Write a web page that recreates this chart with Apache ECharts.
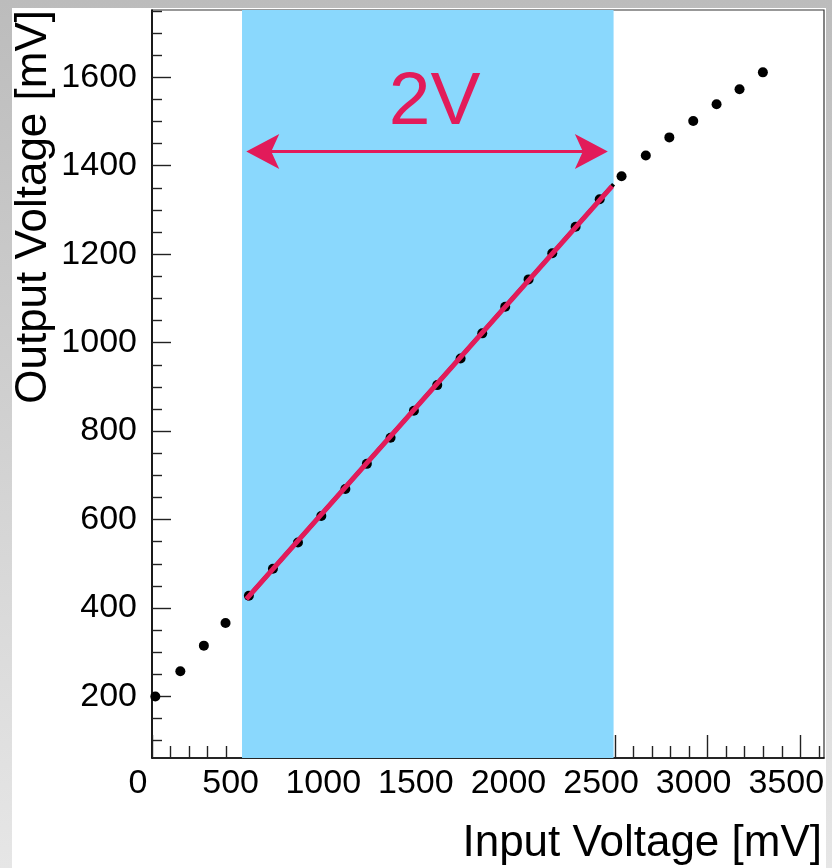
<!DOCTYPE html>
<html>
<head>
<meta charset="utf-8">
<script src="https://cdn.jsdelivr.net/npm/echarts@6/dist/echarts.min.js"></script>
<style>
  html, body { margin: 0; padding: 0; width: 832px; height: 868px; overflow: hidden;
    background: linear-gradient(to bottom, #bcbcbc, #e6e6e6); }
  #panel { position: absolute; left: 12px; top: 8px; width: 814px; height: 860px; background: #fff; }
  #chart { position: absolute; left: 0; top: 0; width: 832px; height: 868px; }
</style>
</head>
<body>
<div id="panel"></div>
<div id="chart"></div>
<script>
// Measured transfer curve: input vs. output voltage (mV)
const inputMv  = [18, 153, 280, 397, 523, 653, 788, 914, 1044, 1160, 1288, 1414, 1540, 1666,
                  1783, 1907, 2033, 2161, 2287, 2417, 2535, 2666, 2793, 2922, 3048, 3172, 3298];
const outputMv = [200, 257, 315, 366, 428, 489, 548, 608, 669, 726, 785, 846, 904, 964,
                  1021, 1081, 1143, 1202, 1262, 1324, 1376, 1423, 1464, 1501, 1539, 1573, 1611];

// Linear range (shaded) and the straight-line fit across it
const linearRangeMv = [486, 2492];
const fitInputMv  = [509, 2484];
const fitOutputMv = [420, 1354];
const fitOutlineInputMv  = [509, 2492];
const fitOutlineOutputMv = [420, 1358];

// Span arrow and its caption
const spanArrowInputMv = [598, 2372];
const spanArrowOutputMv = 1432;
const spanCaption = '2V';
const spanCaptionAt = [1526, 1541];

// Axis ranges and ticks
const xRange = [0, 3628];
const yRange = [61, 1752];
const xMajorTicks = [0, 500, 1000, 1500, 2000, 2500, 3000, 3500];
const xMinorTicks = [100, 200, 300, 400, 600, 700, 800, 900, 1100, 1200, 1300, 1400,
                     1600, 1700, 1800, 1900, 2100, 2200, 2300, 2400, 2600, 2700, 2800, 2900,
                     3100, 3200, 3300, 3400, 3600];
const yMajorTicks = [200, 400, 600, 800, 1000, 1200, 1400, 1600];
const yMinorTicks = [100, 150, 250, 300, 350, 450, 500, 550, 650, 700, 750, 850, 900, 950,
                     1050, 1100, 1150, 1250, 1300, 1350, 1450, 1500, 1550, 1650, 1700, 1750];

const xTitle = 'Input Voltage [mV]';
const yTitle = 'Output Voltage [mV]';

const FONT = '"Liberation Sans", Arial, Helvetica, sans-serif';
const ACCENT = '#e21b5a';
const BAND = '#8ad8fd';
const TICK = '#222';
// notched arrow head, tip pointing up (35 wide, 33 long)
const ARROW_HEAD = 'path://M17.5 0 L35 33 L17.5 25 L0 33 Z';

const chart = echarts.init(document.getElementById('chart'), null, { renderer: 'canvas' });

const plainNumber = v => String(v);

const baseAxis = {
  type: 'value',
  splitLine: { show: false },
};

const option = {
  animation: false,
  backgroundColor: 'transparent',
  grid: {
    left: 152, top: 10, width: 672, height: 748,
    show: true, borderColor: '#333', borderWidth: 1.2, backgroundColor: 'transparent'
  },
  xAxis: [
    Object.assign({}, baseAxis, {
      min: xRange[0], max: xRange[1], position: 'bottom',
      axisLine: { show: true, onZero: false, lineStyle: { color: '#000', width: 1.6 } },
      axisTick: { show: true, inside: true, length: 23, customValues: xMajorTicks,
                  lineStyle: { color: TICK, width: 1.4 } },
      axisLabel: { show: true, customValues: xMajorTicks, margin: 9, color: '#000',
                   formatter: plainNumber,
                   fontFamily: FONT, fontSize: 34, padding: [0, 28, 0, 0] }
    }),
    Object.assign({}, baseAxis, {
      min: xRange[0], max: xRange[1], position: 'bottom',
      axisLine: { show: false, onZero: false },
      axisTick: { show: true, inside: true, length: 12, customValues: xMinorTicks,
                  lineStyle: { color: TICK, width: 1.4 } },
      axisLabel: { show: false }
    })
  ],
  yAxis: [
    Object.assign({}, baseAxis, {
      min: yRange[0], max: yRange[1], position: 'left',
      axisLine: { show: true, onZero: false, lineStyle: { color: '#000', width: 1.6 } },
      axisTick: { show: true, inside: true, length: 19, customValues: yMajorTicks,
                  lineStyle: { color: TICK, width: 1.4 } },
      axisLabel: { show: true, customValues: yMajorTicks, margin: 15, color: '#000',
                   formatter: plainNumber,
                   fontFamily: FONT, fontSize: 34 }
    }),
    Object.assign({}, baseAxis, {
      min: yRange[0], max: yRange[1], position: 'left',
      axisLine: { show: false, onZero: false },
      axisTick: { show: true, inside: true, length: 10, customValues: yMinorTicks,
                  lineStyle: { color: TICK, width: 1.4 } },
      axisLabel: { show: false }
    })
  ],
  graphic: [
    { type: 'text', right: 10, top: 822, silent: true,
      style: { text: xTitle, font: '44px ' + FONT, fill: '#000' } },
    { type: 'text', x: 34, y: 10, rotation: Math.PI / 2, silent: true,
      style: { text: yTitle, font: '44px ' + FONT, fill: '#000',
               align: 'right', verticalAlign: 'middle' } }
  ],
  series: [
    {
      name: 'measured', type: 'scatter', xAxisIndex: 0, yAxisIndex: 0,
      data: inputMv.map((x, i) => [x, outputMv[i]]),
      symbol: 'circle', symbolSize: 10,
      itemStyle: { color: '#000', opacity: 1 },
      markArea: {
        silent: true,
        itemStyle: { color: BAND, opacity: 1 },
        data: [[{ xAxis: linearRangeMv[0] }, { xAxis: linearRangeMv[1] }]]
      },
      z: 2
    },
    {
      name: 'fit outline', type: 'line', xAxisIndex: 0, yAxisIndex: 0,
      data: fitOutlineInputMv.map((x, i) => [x, fitOutlineOutputMv[i]]),
      symbol: 'none', lineStyle: { color: '#000', width: 4 }, z: 3
    },
    {
      name: 'fit', type: 'line', xAxisIndex: 0, yAxisIndex: 0,
      data: fitInputMv.map((x, i) => [x, fitOutputMv[i]]),
      symbol: 'none', lineStyle: { color: ACCENT, width: 5 }, z: 4
    },
    {
      name: 'span', type: 'scatter', xAxisIndex: 0, yAxisIndex: 0,
      data: [spanCaptionAt], symbolSize: 0,
      itemStyle: { opacity: 1 },
      label: { show: true, position: 'inside', formatter: spanCaption,
               color: ACCENT, fontFamily: FONT, fontSize: 75 },
      markLine: {
        silent: true,
        symbol: [ARROW_HEAD, ARROW_HEAD],
        symbolSize: 35,
        symbolKeepAspect: true,
        label: { show: false },
        itemStyle: { color: ACCENT },
        lineStyle: { color: ACCENT, width: 3, type: 'solid', opacity: 1 },
        data: [[
          { coord: [spanArrowInputMv[0], spanArrowOutputMv] },
          { coord: [spanArrowInputMv[1], spanArrowOutputMv] }
        ]]
      },
      z: 5
    }
  ]
};

chart.setOption(option);
</script>
</body>
</html>
